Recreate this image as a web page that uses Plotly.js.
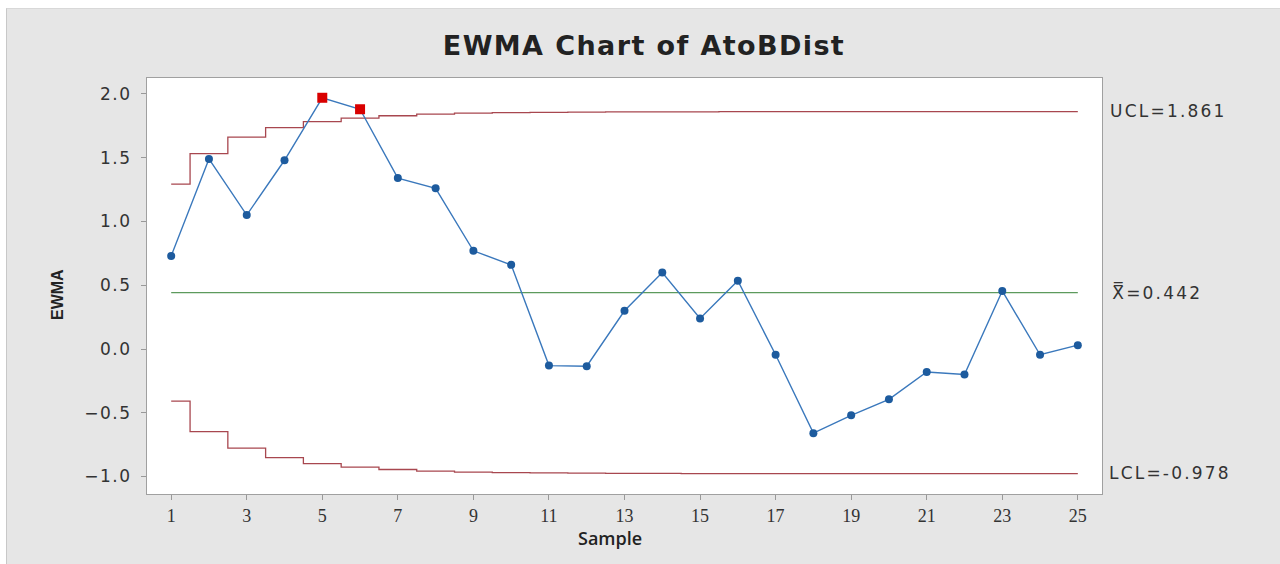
<!DOCTYPE html>
<html>
<head>
<meta charset="utf-8">
<script src="https://cdn.plot.ly/plotly-3.0.1.min.js"></script>
<style>
  html, body { margin: 0; padding: 0; background: #ffffff; width: 1280px; height: 564px; overflow: hidden; }
  #chart { position: absolute; left: 6px; top: 8px; width: 1274px; height: 556px; border-left: 1px solid #c8c8c8; border-top: 1px solid #d8d8d8; box-sizing: border-box; }
  #chart .gtitle { letter-spacing: 1.4px; }
  #chart .lim-label text { letter-spacing: 2.2px; }
  #chart .ytick text { letter-spacing: 1.5px; }
</style>
</head>
<body>
<div id="chart"></div>
<script>
// Sample numbers
const samples = [1,2,3,4,5,6,7,8,9,10,11,12,13,14,15,16,17,18,19,20,21,22,23,24,25];
// EWMA values
const ewma = [0.73,1.49,1.05,1.48,1.97,1.88,1.34,1.26,0.77,0.66,-0.13,-0.135,0.30,0.60,0.24,0.535,-0.045,-0.66,-0.52,-0.395,-0.18,-0.20,0.455,-0.045,0.03];
// Out-of-control samples (red squares)
const oocSamples = [5,6];
const oocValues = [1.97,1.88];
// Control limits
const ucl = [1.293,1.532,1.661,1.736,1.783,1.811,1.829,1.841,1.849,1.853,1.856,1.858,1.859,1.860,1.860,1.861,1.861,1.861,1.861,1.861,1.861,1.861,1.861,1.861,1.861];
const lcl = [-0.409,-0.648,-0.777,-0.852,-0.899,-0.927,-0.945,-0.957,-0.965,-0.969,-0.972,-0.974,-0.975,-0.976,-0.977,-0.977,-0.978,-0.978,-0.978,-0.978,-0.978,-0.978,-0.978,-0.978,-0.978];
const centerLine = [0.442,0.442,0.442,0.442,0.442,0.442,0.442,0.442,0.442,0.442,0.442,0.442,0.442,0.442,0.442,0.442,0.442,0.442,0.442,0.442,0.442,0.442,0.442,0.442,0.442];
const xTicks = [1,3,5,7,9,11,13,15,17,19,21,23,25];
const yTicks = [-1.0,-0.5,0.0,0.5,1.0,1.5,2.0];
const limitLabels = ['UCL=1.861', 'X\u033F=0.442', 'LCL=-0.978'];
const limitValues = [1.861, 0.442, -0.978];

const limitColor = '#a8474f';
const traces = [
  { x: samples, y: ucl, mode: 'lines', line: { color: limitColor, width: 1.3, shape: 'hvh' }, hoverinfo: 'skip' },
  { x: samples, y: lcl, mode: 'lines', line: { color: limitColor, width: 1.3, shape: 'hvh' }, hoverinfo: 'skip' },
  { x: samples, y: centerLine, mode: 'lines', line: { color: '#5d9a5d', width: 1.2 }, hoverinfo: 'skip' },
  { x: samples, y: ewma, mode: 'lines+markers',
    line: { color: '#3a78bc', width: 1.4 },
    marker: { color: '#1d5b9e', size: 8, symbol: 'circle' } },
  { x: oocSamples, y: oocValues, mode: 'markers',
    marker: { color: '#d90000', size: 10, symbol: 'square' } }
];

const annotations = limitLabels.map((t, i) => ({
  xref: 'paper', yref: 'y', x: 1, y: limitValues[i], xanchor: 'left', yanchor: 'middle',
  xshift: 16, yshift: 1, text: t, showarrow: false,
  font: { family: 'DejaVu Sans', size: 17, color: '#333333' }
}));
annotations.push({
  xref: 'paper', yref: 'paper', x: 0, y: 0.5, xanchor: 'center', yanchor: 'middle',
  xshift: -90, yshift: -9, textangle: -90, text: 'EWMA', showarrow: false,
  font: { family: 'Liberation Sans', size: 16, color: '#222222', weight: 700 }
});
annotations.push({
  xref: 'paper', yref: 'paper', x: 0.5, y: 0, xanchor: 'center', yanchor: 'middle',
  xshift: -15, yshift: -44, text: 'Sample', showarrow: false,
  font: { family: 'Open Sans', size: 18, color: '#222222', weight: 600 }
});

const layout = {
  width: 1274, height: 556,
  paper_bgcolor: '#e6e6e6', plot_bgcolor: '#ffffff',
  showlegend: false,
  margin: { l: 140, r: 179, t: 69, b: 71 },
  title: { text: 'EWMA Chart of AtoBDist', x: 0.5, xanchor: 'center', y: 0.935, yanchor: 'middle',
    font: { family: 'DejaVu Sans', size: 27, color: '#222222', weight: 700 } },
  xaxis: {
    range: [0.36, 25.64], tickvals: xTicks, ticktext: xTicks.map(String),
    ticks: 'outside', ticklen: 5, tickcolor: '#999999',
    showgrid: false, zeroline: false, showline: true, linecolor: '#a0a0a0', linewidth: 1, mirror: true,
    tickfont: { family: 'Liberation Serif', size: 18, color: '#333333' }
  },
  yaxis: {
    range: [-1.137, 2.125], tickvals: yTicks, tickformat: '.1f',
    ticks: 'outside', ticklen: 5, tickcolor: '#999999', ticklabelstandoff: 6,
    showgrid: false, zeroline: false, showline: true, linecolor: '#a0a0a0', linewidth: 1, mirror: true,
    tickfont: { family: 'DejaVu Sans', size: 17, color: '#333333' }
  },
  annotations: annotations
};

Plotly.newPlot('chart', traces, layout, { displayModeBar: false, staticPlot: true }).then(() => {
  document.querySelectorAll('#chart .annotation').forEach((g, i) => {
    if (i < limitLabels.length) g.classList.add('lim-label');
  });
});
</script>
</body>
</html>
